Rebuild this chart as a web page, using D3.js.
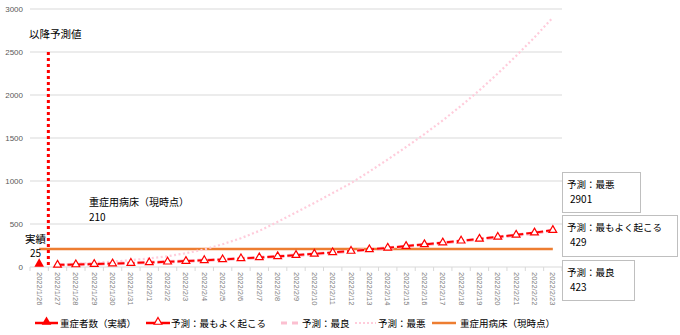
<!DOCTYPE html>
<html><head><meta charset="utf-8">
<script src="https://cdn.jsdelivr.net/npm/d3@7/dist/d3.min.js"></script>
<style>
body{margin:0;background:#fff;}
svg{display:block;font-family:"Noto Sans CJK JP","Noto Sans",sans-serif;}
</style></head>
<body><svg id="c" width="680" height="335"></svg>
<script>
const categories = ["2022/1/26","2022/1/27","2022/1/28","2022/1/29","2022/1/30","2022/1/31","2022/2/1","2022/2/2","2022/2/3","2022/2/4","2022/2/5","2022/2/6","2022/2/7","2022/2/8","2022/2/9","2022/2/10","2022/2/11","2022/2/12","2022/2/13","2022/2/14","2022/2/15","2022/2/16","2022/2/17","2022/2/18","2022/2/19","2022/2/20","2022/2/21","2022/2/22","2022/2/23"];
const actual = [25,null,null,null,null,null,null,null,null,null,null,null,null,null,null,null,null,null,null,null,null,null,null,null,null,null,null,null,null];
const mostLikely = [null,25,29,34,40,46,53,61,69,78,88,99,111,124,138,153,169,186,204,223,243,263,284,305,327,350,374,400,429];
const best = [null,25,29,34,40,46,53,61,69,78,88,99,110,123,137,152,168,185,202,221,241,261,281,302,324,346,370,395,423];
const worst = [null,25,36,48,62,80,100,125,160,205,265,335,420,525,635,745,860,975,1110,1250,1395,1545,1705,1875,2055,2250,2455,2670,2901];
const bedCapacity = [210,210,210,210,210,210,210,210,210,210,210,210,210,210,210,210,210,210,210,210,210,210,210,210,210,210,210,210,210];
const yTicks = [0,500,1000,1500,2000,2500,3000];
const forecastLineTop = 2500;
const seriesNames = ["重症者数（実績）","予測：最もよく起こる","予測：最良","予測：最悪","重症用病床（現時点）"];

const svg = d3.select("#c");
const x = d3.scaleBand().domain(categories).range([30,562]).padding(0);
const y = d3.scaleLinear().domain([0,3000]).range([267,9]);
const cx = c => x(c) + x.bandwidth()/2;
const JP = '"Noto Sans CJK JP","Noto Sans",sans-serif';

// gridlines
svg.append("g").selectAll("line").data(yTicks).join("line")
  .attr("x1",30).attr("x2",562).attr("y1",d=>y(d)).attr("y2",d=>y(d))
  .attr("stroke","#d9d9d9").attr("stroke-width",1);
// y labels
svg.append("g").selectAll("text").data(yTicks).join("text")
  .attr("x",23).attr("y",d=>y(d)+3).attr("text-anchor","end")
  .attr("font-size",8).attr("fill","#595959").attr("font-family","Liberation Sans, Arial, sans-serif").text(d=>d);
// x ticks
const bounds = categories.map(c=>x(c)).concat([x.range()[1]]);
svg.append("g").selectAll("line").data(bounds).join("line")
  .attr("x1",d=>d).attr("x2",d=>d).attr("y1",267).attr("y2",271)
  .attr("stroke","#d9d9d9");
svg.append("g").selectAll("text").data(categories).join("text")
  .attr("transform",d=>`translate(${cx(d)-2.5},${272}) rotate(90)`)
  .attr("font-size",7.5).attr("fill","#808080").attr("font-family","Liberation Sans, Arial, sans-serif").text(d=>d);

const idx = categories.map((c,i)=>i);
const line = arr => d3.line().defined(i=>arr[i]!=null).x(i=>cx(categories[i])).y(i=>y(arr[i]))(idx);

// bed capacity
svg.append("path").attr("d",line(bedCapacity)).attr("fill","none").attr("stroke","#ed7d31").attr("stroke-width",2.5);
// worst
svg.append("path").attr("d",line(worst)).attr("fill","none").attr("stroke","#ffccdb").attr("stroke-width",2.2).attr("stroke-dasharray","2,2.5");
// best
svg.append("path").attr("d",line(best)).attr("fill","none").attr("stroke","#fbbfd0").attr("stroke-width",3.5).attr("stroke-dasharray","7,3");
// most likely
svg.append("path").attr("d",line(mostLikely)).attr("fill","none").attr("stroke","#ff0000").attr("stroke-width",2).attr("stroke-dasharray","7,3");
const tri = d3.symbol().type(d3.symbolTriangle).size(26);
svg.append("g").selectAll("path").data(idx.filter(i=>mostLikely[i]!=null)).join("path")
  .attr("d",tri).attr("transform",i=>`translate(${cx(categories[i])},${y(mostLikely[i])})`)
  .attr("fill","#fff").attr("stroke","#ff0000").attr("stroke-width",1.2);
// actual
svg.append("g").selectAll("path").data(idx.filter(i=>actual[i]!=null)).join("path")
  .attr("d",d3.symbol().type(d3.symbolTriangle).size(40)).attr("transform",i=>`translate(${cx(categories[i])},${y(actual[i])-1})`)
  .attr("fill","#ff0000");

// forecast boundary
svg.append("line").attr("x1",x(categories[1])).attr("x2",x(categories[1]))
  .attr("y1",y(forecastLineTop)).attr("y2",y(0))
  .attr("stroke","#ff0000").attr("stroke-width",3).attr("stroke-dasharray","3,3");

function txt(t,xx,yy,size){svg.append("text").attr("x",xx).attr("y",yy).attr("font-size",size||10).attr("font-family",JP).attr("fill","#000").text(t);}
txt("以降予測値",29,38,10.5);
txt("実績",25,243,10.5);
txt(String(actual[0]),30,257,10);
txt("重症用病床（現時点）",89,206,10);
txt(String(bedCapacity[0]),89,221,10);

// callout boxes
const boxes = [
  {name:seriesNames[3], val:worst[28], x:562,y:172,w:78,h:40},
  {name:seriesNames[1], val:mostLikely[28], x:562,y:215,w:115,h:41},
  {name:seriesNames[2], val:best[28], x:562,y:260,w:72,h:40}
];
boxes.forEach(b=>{
  svg.append("rect").attr("x",b.x+0.5).attr("y",b.y+0.5).attr("width",b.w).attr("height",b.h)
    .attr("fill","#fff").attr("stroke","#bfbfbf").attr("stroke-width",1);
  txt(b.name,b.x+5,b.y+16,9.5);
  txt(String(b.val),b.x+8,b.y+31,10);
});

// legend
const ly = 323;
const lg = svg.append("g");
lg.append("line").attr("x1",35).attr("x2",58).attr("y1",ly).attr("y2",ly).attr("stroke","#ff0000").attr("stroke-width",2.5);
lg.append("path").attr("d",d3.symbol().type(d3.symbolTriangle).size(40)).attr("transform",`translate(46.5,${ly-1})`).attr("fill","#ff0000");
lg.append("line").attr("x1",146).attr("x2",170).attr("y1",ly).attr("y2",ly).attr("stroke","#ff0000").attr("stroke-width",2.5);
lg.append("path").attr("d",tri).attr("transform",`translate(158,${ly-1})`).attr("fill","#fff").attr("stroke","#ff0000").attr("stroke-width",1.2);
lg.append("line").attr("x1",281).attr("x2",302).attr("y1",ly).attr("y2",ly).attr("stroke","#fbbfd0").attr("stroke-width",3).attr("stroke-dasharray","6,5");
lg.append("line").attr("x1",355).attr("x2",376).attr("y1",ly).attr("y2",ly).attr("stroke","#ffccdb").attr("stroke-width",2.2).attr("stroke-dasharray","2,2");
lg.append("line").attr("x1",432).attr("x2",456).attr("y1",ly).attr("y2",ly).attr("stroke","#ed7d31").attr("stroke-width",2.5);
[[60,0],[171,1],[302,2],[378,3],[460,4]].forEach(([lx,i])=>{
  lg.append("text").attr("x",lx).attr("y",ly+3.5).attr("font-size",9.5).attr("font-family",JP).text(seriesNames[i]);
});
</script></body></html>
